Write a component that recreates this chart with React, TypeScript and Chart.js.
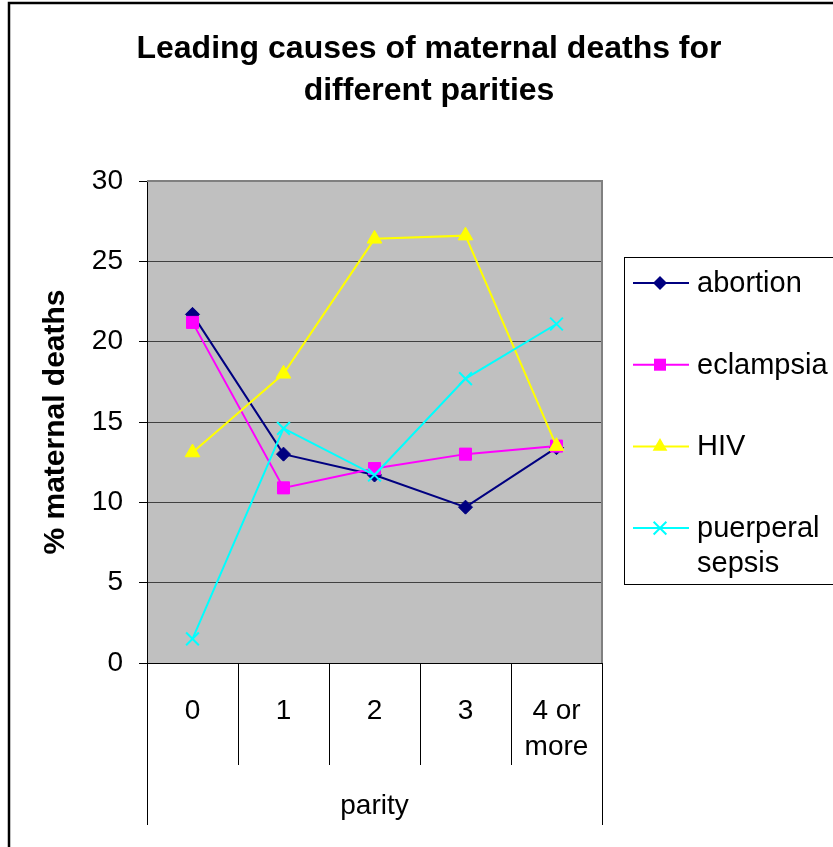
import React, { useEffect, useRef } from 'react';
import { Chart, registerables } from 'chart.js';

Chart.register(...registerables);

const categories: (string | string[])[] = ['0', '1', '2', '3', ['4 or', 'more']];
const abortion = [21.7, 13.0, 11.7, 9.7, 13.4];
const eclampsia = [21.2, 10.9, 12.1, 13.0, 13.5];
const hiv = [13.1, 18.0, 26.4, 26.6, 13.5];
const sepsis = [1.5, 14.6, 11.7, 17.7, 21.1];
const seriesLabels = ['abortion', 'eclampsia', 'HIV', 'puerperal sepsis'];
const titleLines = ['Leading causes of maternal deaths for', 'different parities'];
const xTitle = 'parity';
const yTitle = '% maternal deaths';
const yMin = 0;
const yMax = 30;
const yStep = 5;

const FONT = '"Liberation Sans", Arial, Helvetica, sans-serif';

function drawMarker(ctx: CanvasRenderingContext2D, style: string, x: number, y: number, r: number, color: string) {
  ctx.save();
  ctx.fillStyle = color;
  ctx.strokeStyle = color;
  ctx.lineWidth = 2;
  ctx.beginPath();
  if (style === 'rectRot') {
    ctx.moveTo(x, y - r);
    ctx.lineTo(x + r, y);
    ctx.lineTo(x, y + r);
    ctx.lineTo(x - r, y);
    ctx.closePath();
    ctx.fill();
  } else if (style === 'rect') {
    const s = Math.SQRT1_2 * r;
    ctx.rect(x - s, y - s, 2 * s, 2 * s);
    ctx.fill();
  } else if (style === 'triangle') {
    for (let i = 0; i < 3; i++) {
      const a = (i * 2 * Math.PI) / 3;
      const px = x + Math.sin(a) * r;
      const py = y - Math.cos(a) * r;
      if (i === 0) ctx.moveTo(px, py);
      else ctx.lineTo(px, py);
    }
    ctx.closePath();
    ctx.fill();
  } else if (style === 'crossRot') {
    const d = Math.SQRT1_2 * r;
    ctx.moveTo(x - d, y - d);
    ctx.lineTo(x + d, y + d);
    ctx.moveTo(x + d, y - d);
    ctx.lineTo(x - d, y + d);
    ctx.stroke();
  }
  ctx.restore();
}

const decorPlugin = {
  id: 'decor',
  beforeDraw(chart: any) {
    const { ctx, chartArea: a } = chart;
    ctx.save();
    ctx.fillStyle = '#ffffff';
    ctx.fillRect(0, 0, chart.width, chart.height);
    ctx.fillStyle = '#C0C0C0';
    ctx.fillRect(a.left, a.top, a.right - a.left, a.bottom - a.top);
    ctx.restore();
  },
  beforeDatasetsDraw(chart: any) {
    const { ctx, chartArea: a } = chart;
    ctx.save();
    ctx.strokeStyle = '#808080';
    ctx.lineWidth = 2;
    ctx.beginPath();
    ctx.moveTo(a.left, a.top);
    ctx.lineTo(a.right, a.top);
    ctx.lineTo(a.right, a.bottom);
    ctx.stroke();
    ctx.restore();
  },
  afterDraw(chart: any) {
    const { ctx, chartArea: a } = chart;
    ctx.save();
    // outer extension lines of the category axis (second level)
    ctx.strokeStyle = '#000';
    ctx.lineWidth = 1;
    ctx.beginPath();
    ctx.moveTo(Math.round(a.left) + 0.5, a.bottom + 100);
    ctx.lineTo(Math.round(a.left) + 0.5, a.bottom + 162);
    ctx.moveTo(Math.round(a.right) + 0.5, a.bottom + 100);
    ctx.lineTo(Math.round(a.right) + 0.5, a.bottom + 162);
    ctx.stroke();

    // page border
    ctx.strokeStyle = '#000';
    ctx.lineWidth = 2.5;
    ctx.beginPath();
    ctx.moveTo(9, chart.height + 5);
    ctx.lineTo(9, 3);
    ctx.lineTo(chart.width + 5, 3);
    ctx.stroke();

    // title
    ctx.fillStyle = '#000';
    ctx.font = `bold 32px ${FONT}`;
    ctx.textAlign = 'center';
    ctx.textBaseline = 'alphabetic';
    ctx.fillText(titleLines[0], 429, 58);
    ctx.fillText(titleLines[1], 429, 100);

    // legend
    const lx = 624, ly = 257, lw = 220, lh = 327;
    ctx.strokeStyle = '#000';
    ctx.lineWidth = 1;
    ctx.strokeRect(lx + 0.5, ly + 0.5, lw, lh);
    ctx.font = `29px ${FONT}`;
    ctx.textAlign = 'left';
    ctx.textBaseline = 'middle';
    const maxW = chart.width - 697 - 2;
    chart.data.datasets.forEach((ds: any, i: number) => {
      const cy = 283 + i * 81.7;
      ctx.strokeStyle = ds.borderColor;
      ctx.lineWidth = 2;
      ctx.beginPath();
      ctx.moveTo(633, cy);
      ctx.lineTo(689, cy);
      ctx.stroke();
      drawMarker(ctx, ds.pointStyle, 660, cy, ds.pointRadius, ds.borderColor);
      // wrap label
      const words = String(ds.label).split(' ');
      const lines: string[] = [];
      let cur = '';
      words.forEach((w) => {
        const test = cur ? cur + ' ' + w : w;
        if (cur && ctx.measureText(test).width > maxW) {
          lines.push(cur);
          cur = w;
        } else cur = test;
      });
      if (cur) lines.push(cur);
      ctx.fillStyle = '#000';
      lines.forEach((t, j) => ctx.fillText(t, 697, cy + 1 + j * 35));
    });
    ctx.restore();
  },
};

export default function App() {
  const ref = useRef<HTMLCanvasElement | null>(null);
  useEffect(() => {
    if (!ref.current) return;
    const mk = (label: string, data: number[], color: string, style: string, radius: number, order: number) => ({
      label,
      data,
      borderColor: color,
      backgroundColor: color,
      pointBackgroundColor: color,
      pointBorderColor: color,
      pointStyle: style,
      pointRadius: radius,
      pointBorderWidth: style === 'crossRot' ? 2 : 1,
      borderWidth: 2,
      tension: 0,
      order,
    });
    const chart = new Chart(ref.current, {
      type: 'line',
      data: {
        labels: categories as any,
        datasets: [
          mk(seriesLabels[0], abortion, '#000080', 'rectRot', 7, 4),
          mk(seriesLabels[1], eclampsia, '#FF00FF', 'rect', 8.5, 3),
          mk(seriesLabels[2], hiv, '#FFFF00', 'triangle', 8.5, 2),
          mk(seriesLabels[3], sepsis, '#00FFFF', 'crossRot', 9, 1),
        ] as any,
      },
      options: {
        animation: false,
        responsive: false,
        events: [],
        layout: { padding: { top: 181, right: 231, left: 0, bottom: 0 } },
        plugins: { legend: { display: false }, title: { display: false }, tooltip: { enabled: false } },
        scales: {
          x: {
            offset: true,
            afterFit: (s: any) => { s.height = 184; },
            grid: {
              offset: true,
              drawOnChartArea: false,
              drawTicks: true,
              tickLength: 102,
              color: '#000',
              tickColor: '#000',
              lineWidth: 1,
            },
            border: { display: true, color: '#000', width: 1 },
            ticks: {
              color: '#000',
              font: { family: FONT, size: 28, lineHeight: 1.3 },
              padding: -72,
              maxRotation: 0,
              autoSkip: false,
            },
            title: {
              display: true,
              text: xTitle,
              color: '#000',
              font: { family: FONT, size: 28 },
              padding: { top: 0, bottom: 24 },
            },
          },
          y: {
            min: yMin,
            max: yMax,
            afterFit: (s: any) => { s.width = 147; },
            grid: {
              color: '#404040',
              tickColor: '#000',
              tickLength: 8,
              lineWidth: 1,
            },
            border: { display: true, color: '#000', width: 1 },
            ticks: {
              stepSize: yStep,
              color: '#000',
              font: { family: FONT, size: 28 },
              padding: 16,
            },
            title: {
              display: true,
              text: yTitle,
              color: '#000',
              font: { family: FONT, size: 30, weight: 'bold' },
              padding: { top: 38, bottom: 0 },
            },
          },
        },
      } as any,
      plugins: [decorPlugin],
    });
    return () => chart.destroy();
  }, []);
  return (
    <div style={{ position: 'fixed', left: 0, top: 0, width: 833, height: 847, background: '#fff' }}>
      <canvas ref={ref} width={833} height={847} style={{ display: 'block' }} />
    </div>
  );
}
